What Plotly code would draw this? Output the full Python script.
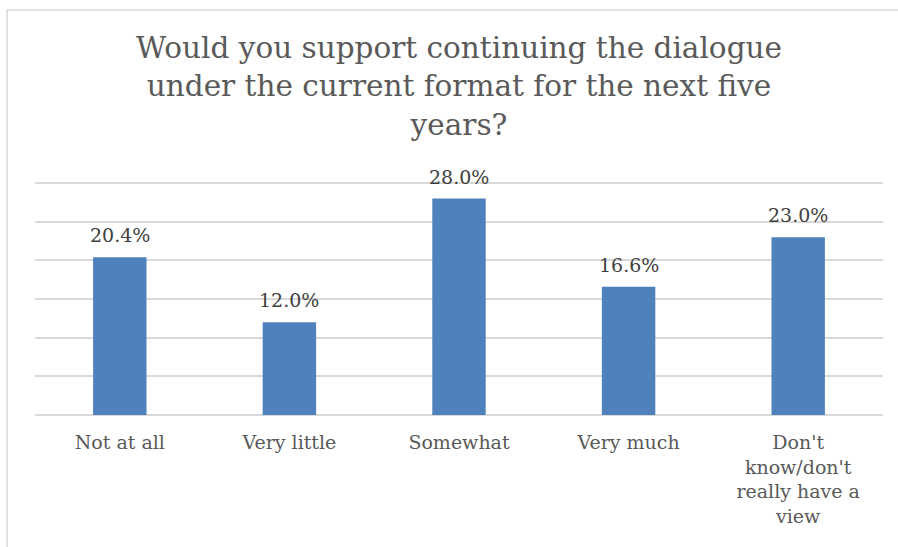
import plotly.graph_objects as go

# Survey responses
categories = ["Not at all", "Very little", "Somewhat", "Very much",
              "Don't<br>know/don't<br>really have a<br>view"]
shares = [20.4, 12.0, 28.0, 16.6, 23.0]

title_lines = ["Would you support continuing the dialogue",
               "under the current format for the next five",
               "years?"]

FONT = "DejaVu Serif"
BAR = "#4F81BD"
GRID = "#D9D9D9"

fig = go.Figure(go.Bar(
    x=categories,
    y=shares,
    marker=dict(color=BAR, line=dict(width=0)),
    width=0.315,
    hoverinfo="skip",
))

# value labels above each bar
for c, v in zip(categories, shares):
    fig.add_annotation(
        x=c, y=v, xref="x", yref="y",
        text=f"{v:.1f}%", showarrow=False,
        yanchor="bottom", yshift=9,
        font=dict(family=FONT, size=19, color="#404040"),
    )

fig.update_layout(
    width=898, height=547,
    margin=dict(l=35, r=15, t=180, b=132),
    paper_bgcolor="white", plot_bgcolor="white",
    showlegend=False,
    title=dict(
        text="<br>".join(title_lines),
        x=0.5, xref="paper", xanchor="center",
        y=1 - 58 / 547, yref="container", yanchor="top",
        font=dict(family=FONT, size=29.5, color="#595959"),
    ),
    xaxis=dict(
        showgrid=False, showline=False, zeroline=False,
        ticks="", ticklabelstandoff=14,
        tickfont=dict(family=FONT, size=19, color="#595959"),
    ),
    yaxis=dict(
        range=[0, 30.4], tickvals=[0, 5, 10, 15, 20, 25, 30],
        showticklabels=False,
        showgrid=True, gridcolor=GRID, gridwidth=1.5,
        zeroline=True, zerolinecolor=GRID, zerolinewidth=1.5,
        showline=False, ticks="",
    ),
    shapes=[dict(
        type="rect", xref="paper", yref="paper",
        x0=(7 - 35) / 848, x1=(940 - 35) / 848,
        y0=(415 - 580) / 235, y1=(415 - 10) / 235,
        line=dict(color=GRID, width=1.5), fillcolor="rgba(0,0,0,0)",
        layer="below",
    )],
)

fig.write_html("out.html")
